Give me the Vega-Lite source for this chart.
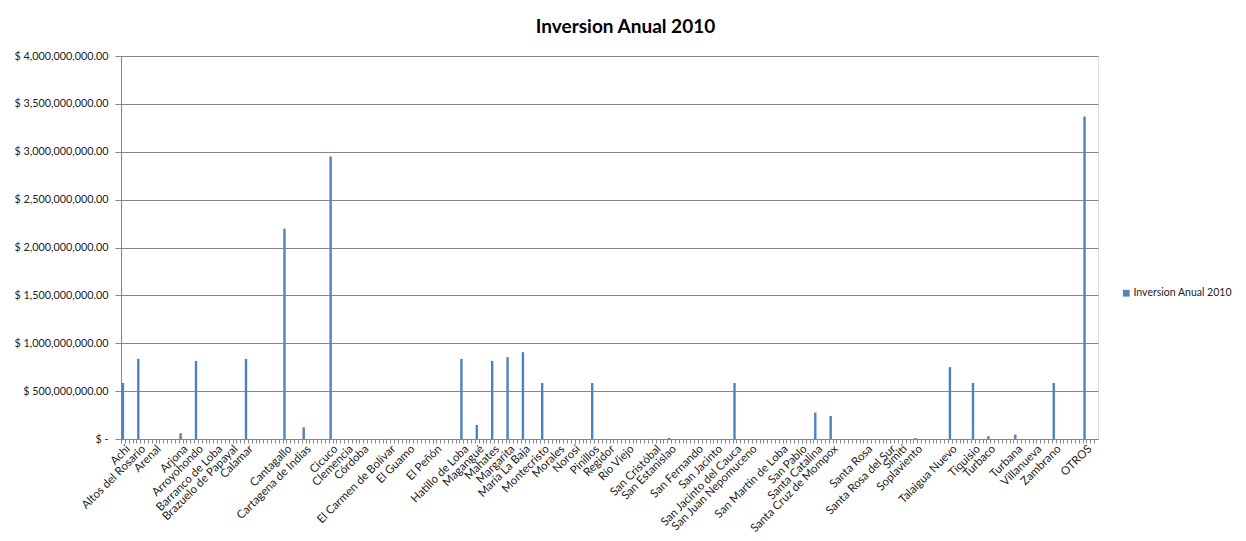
{
  "$schema": "https://vega.github.io/schema/vega-lite/v6.json",
  "width": 977,
  "height": 383,
  "autosize": {"type": "none"},
  "padding": {"left": 121, "top": 56, "right": 148, "bottom": 102},
  "background": "white",
  "title": {
    "text": "Inversion Anual 2010",
    "fontSize": 19,
    "fontWeight": "bold",
    "font": "Lato",
    "color": "#000000",
    "offset": 13,
    "dx": 16
  },
  "data": {
    "values": [
      {"municipio": "Achi", "pos": 0, "inversion": 585000000},
      {"municipio": "Altos del Rosario", "pos": 4, "inversion": 837000000},
      {"municipio": "Arenal", "pos": 8, "inversion": 0},
      {"municipio": "Arjona", "pos": 15, "inversion": 60000000},
      {"municipio": "Arroyohondo", "pos": 19, "inversion": 816000000},
      {"municipio": "Barranco de Loba", "pos": 24, "inversion": 0},
      {"municipio": "Brazuelo de Papayal", "pos": 28, "inversion": 0},
      {"municipio": "Calamar", "pos": 32, "inversion": 837000000},
      {"municipio": "Cantagallo", "pos": 42, "inversion": 2197000000},
      {"municipio": "Cartagena de Indias", "pos": 47, "inversion": 122000000},
      {"municipio": "Cicuco", "pos": 54, "inversion": 2950000000},
      {"municipio": "Clemencia", "pos": 58, "inversion": 0},
      {"municipio": "Córdoba", "pos": 62, "inversion": 0},
      {"municipio": "El Carmen de Bolívar", "pos": 69, "inversion": 0},
      {"municipio": "El Guamo", "pos": 74, "inversion": 0},
      {"municipio": "El Peñón", "pos": 81, "inversion": 0},
      {"municipio": "Hatillo de Loba", "pos": 88, "inversion": 837000000},
      {"municipio": "Magangué", "pos": 92, "inversion": 146000000},
      {"municipio": "Mahates", "pos": 96, "inversion": 816000000},
      {"municipio": "Margarita", "pos": 100, "inversion": 855000000},
      {"municipio": "María La Baja", "pos": 104, "inversion": 907000000},
      {"municipio": "Montecristo", "pos": 109, "inversion": 585000000},
      {"municipio": "Morales", "pos": 113, "inversion": 0},
      {"municipio": "Norosí", "pos": 117, "inversion": 0},
      {"municipio": "Pinillos", "pos": 122, "inversion": 585000000},
      {"municipio": "Regidor", "pos": 126, "inversion": 0},
      {"municipio": "Río Viejo", "pos": 131, "inversion": 0},
      {"municipio": "San Cristóbal", "pos": 138, "inversion": 0},
      {"municipio": "San Estanislao", "pos": 142, "inversion": 12000000},
      {"municipio": "San Fernando", "pos": 149, "inversion": 0},
      {"municipio": "San Jacinto", "pos": 154, "inversion": 0},
      {"municipio": "San Jacinto del Cauca", "pos": 159, "inversion": 585000000},
      {"municipio": "San Juan Nepomuceno", "pos": 163, "inversion": 0},
      {"municipio": "San Martín de Loba", "pos": 171, "inversion": 0},
      {"municipio": "San Pablo", "pos": 176, "inversion": 0},
      {"municipio": "Santa Catalina", "pos": 180, "inversion": 275000000},
      {"municipio": "Santa Cruz de Mompox", "pos": 184, "inversion": 240000000},
      {"municipio": "Santa Rosa", "pos": 193, "inversion": 0},
      {"municipio": "Santa Rosa del Sur", "pos": 199, "inversion": 0},
      {"municipio": "Simití", "pos": 202, "inversion": 0},
      {"municipio": "Soplaviento", "pos": 206, "inversion": 10000000},
      {"municipio": "Talaigua Nuevo", "pos": 215, "inversion": 750000000},
      {"municipio": "Tiquisio", "pos": 221, "inversion": 585000000},
      {"municipio": "Turbaco", "pos": 225, "inversion": 30000000},
      {"municipio": "Turbana", "pos": 232, "inversion": 45000000},
      {"municipio": "Villanueva", "pos": 237, "inversion": 0},
      {"municipio": "Zambrano", "pos": 242, "inversion": 585000000},
      {"municipio": "OTROS", "pos": 250, "inversion": 3368000000}
    ]
  },
  "encoding": {
    "x": {
      "field": "pos",
      "type": "quantitative",
      "scale": {"domain": [-0.5, 253.5], "nice": false, "zero": false, "padding": 0},
      "axis": {
        "title": null,
        "labels": false,
        "grid": false,
        "tickCount": 254,
        "tickOffset": -1.92,
        "tickSize": 4,
        "tickColor": "#868686",
        "domainColor": "#868686"
      }
    }
  },
  "layer": [
    {
      "mark": {"type": "bar", "width": 2.4},
      "encoding": {
        "y": {
          "field": "inversion",
          "type": "quantitative",
          "scale": {"domain": [0, 4000000000], "nice": false},
          "axis": {
            "title": null,
            "values": [0, 500000000, 1000000000, 1500000000, 2000000000, 2500000000, 3000000000, 3500000000, 4000000000],
            "labelExpr": "datum.value == 0 ? '$ -' : '$ ' + format(datum.value, ',.2f')",
            "labelFont": "Lato",
            "labelFontSize": 10.8,
            "labelColor": "#222222",
            "labelPadding": 7,
            "tickSize": 6,
            "tickColor": "#868686",
            "domainColor": "#868686",
            "gridColor": "#868686",
            "gridWidth": 1
          }
        },
        "color": {
          "datum": "Inversion Anual 2010",
          "type": "nominal",
          "scale": {"range": ["#4f81bd"]},
          "legend": {
            "title": null,
            "orient": "none",
            "legendX": 1000,
            "legendY": 232,
            "symbolType": "square",
            "symbolSize": 45,
            "symbolStrokeWidth": 0,
            "labelOffset": 2,
            "labelFont": "Lato",
            "labelFontSize": 10.5,
            "labelColor": "#222222"
          }
        }
      }
    },
    {
      "mark": {
        "type": "text",
        "angle": -45,
        "align": "right",
        "baseline": "middle",
        "dy": 10,
        "dx": -2,
        "font": "Lato",
        "fontSize": 11.5,
        "color": "#222222"
      },
      "encoding": {
        "y": {"datum": 0, "type": "quantitative"},
        "text": {"field": "municipio"}
      }
    }
  ]
}
